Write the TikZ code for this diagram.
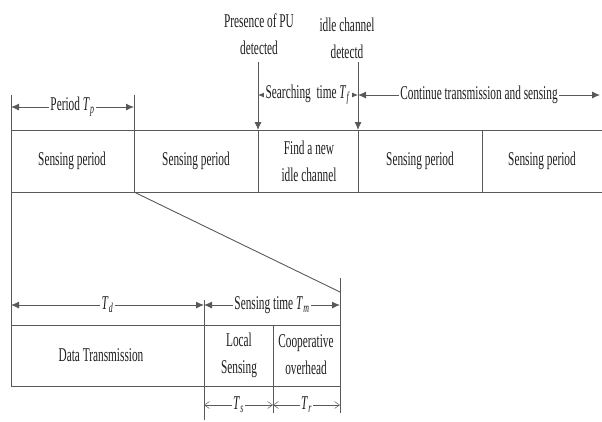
\documentclass[tikz,border=0pt]{standalone}
\usepackage{fontspec}
\setmainfont{Liberation Serif}[FakeStretch=0.58]
\usetikzlibrary{arrows.meta}
\newcommand\Tx[1]{\textit{T}\kern0.3pt\textsubscript{\textit{#1}}}
\definecolor{ln}{gray}{0.35}
\definecolor{tx}{gray}{0.12}
\tikzset{
  lbl/.style={text=tx, font=\fontsize{19.5}{27}\selectfont, inner sep=0pt, align=center},
  albl/.style={lbl, fill=white, inner xsep=1.5pt, inner ysep=0pt},
  rule/.style={draw=ln, line width=0.9pt},
  dim/.style={rule, {Latex[length=8pt,width=7pt]}-{Latex[length=8pt,width=7pt]}},
  down/.style={rule, -{Latex[length=8pt,width=7pt]}},
  thin dim/.style={draw=ln, line width=0.5pt, {Straight Barb[length=5pt,width=7pt]}-{Straight Barb[length=5pt,width=7pt]}}
}
\begin{document}
\begin{tikzpicture}[x=1pt,y=-1pt]
\useasboundingbox (0,0) rectangle (602,421);
% ---- top timeline coordinates
\coordinate (tl) at (11,130);  \coordinate (tr) at (602,130);
\coordinate (bl) at (11,192);  \coordinate (br) at (602,192);
\coordinate (l0) at (11,95);   \coordinate (lb) at (11,386);
\coordinate (d1t) at (134,95); \coordinate (d1b) at (134,192);
\coordinate (d2t) at (258,130); \coordinate (d2b) at (258,192);
\coordinate (d3t) at (358,130); \coordinate (d3b) at (358,192);
\coordinate (d4t) at (482,130); \coordinate (d4b) at (482,192);
% top row lines
\draw[rule] (tl) -- (tr);
\draw[rule] (bl) -- (br);
\draw[rule] (l0) -- (lb);
\draw[rule] (d1t) -- (d1b);
\draw[rule] (d2t) -- (d2b);
\draw[rule] (d3t) -- (d3b);
\draw[rule] (d4t) -- (d4b);
% top row texts
\node[lbl] (s1) at (72,161) {Sensing period};
\node[lbl] (s2) at (196,161) {Sensing period};
\node[lbl] (fn) at (309,161) {Find a new\\idle channel};
\node[lbl] (s3) at (420,161) {Sensing period};
\node[lbl] (s4) at (542,161) {Sensing period};
% event arrows
\coordinate (pu0) at (258,62); \coordinate (pu1) at (258,130);
\coordinate (ic0) at (358,62); \coordinate (ic1) at (358,130);
\draw[down] (pu0) -- (pu1);
\draw[down] (ic0) -- (ic1);
\node[lbl] (put) at (259,34) {Presence of PU\\detected};
\node[lbl] (ict) at (347,38) {idle channel\\detectd};
% dimension arrows on top
\coordinate (pa) at (11,107); \coordinate (pb) at (134,107);
\draw[dim] (pa) -- (pb) node[albl, midway] (pl) {Period \Tx{p}};
\coordinate (sa) at (258,95); \coordinate (sb) at (358,95);
\draw[dim] (sa) -- (sb) node[albl, midway] (sl) {Searching\ \ time \Tx{f}};
\coordinate (ca) at (358,95); \coordinate (cb) at (600,95);
\draw[dim] (ca) -- (cb) node[albl, midway] (cl) {Continue transmission and sensing};
% zoom line
\coordinate (zr0) at (340,278); \coordinate (zr1) at (340,413);
\coordinate (zd) at (340,292);
\draw[rule] (d1b) -- (zd);
\draw[rule] (zr0) -- (zr1);
% bottom timeline
\coordinate (btl) at (11,325); \coordinate (btr) at (340,325);
\coordinate (bbl) at (11,386); \coordinate (bbr) at (340,386);
\coordinate (e1t) at (204,300); \coordinate (e1b) at (204,420);
\coordinate (e2t) at (273,325); \coordinate (e2b) at (273,413);
\draw[rule] (btl) -- (btr);
\draw[rule] (bbl) -- (bbr);
\draw[rule] (e1t) -- (e1b);
\draw[rule] (e2t) -- (e2b);
\node[lbl] (dt) at (101,355) {Data Transmission};
\node[lbl] (ls) at (239,355) {Local\\Sensing};
\node[lbl] (co) at (306,355) {Cooperative\\overhead};
% bottom dimension arrows
\coordinate (ta) at (11,305); \coordinate (tb) at (204,305); \coordinate (tc) at (340,305);
\draw[dim] (ta) -- (tb) node[albl, midway] (tdl) {\Tx{d}};
\draw[dim] (tb) -- (tc) node[albl, midway] (tml) {Sensing time \Tx{m}};
\coordinate (ua) at (204,405); \coordinate (ub) at (273,405); \coordinate (uc) at (340,405);
\draw[thin dim] (ua) -- (ub) node[albl, midway] (tsl) {\Tx{s}};
\draw[thin dim] (ub) -- (uc) node[albl, midway] (trl) {\Tx{r}};
\end{tikzpicture}
\end{document}
